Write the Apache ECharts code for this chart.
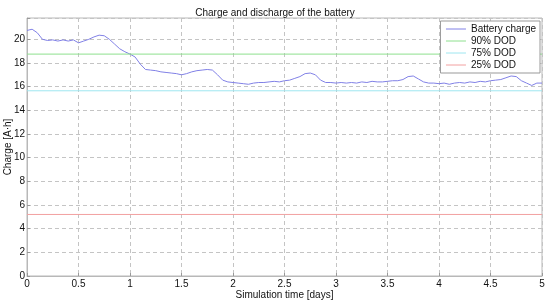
<!DOCTYPE html>
<html>
<head>
<meta charset="utf-8">
<script src="https://cdn.jsdelivr.net/npm/echarts@6/dist/echarts.min.js"></script>
<style>
html, body { margin: 0; padding: 0; background: #fff; }
#main { width: 550px; height: 304px; }
</style>
</head>
<body>
<div id="main"></div>
<script>
var timeDays = [];
for (var i = 0; i <= 100; i++) timeDays.push(+(i * 0.05).toFixed(2));
var chargeAh = [
  20.75, 20.85, 20.55, 20.0, 19.9, 19.95, 19.85, 19.95, 19.85, 19.95,
  19.7, 19.85, 20.0, 20.2, 20.35, 20.3, 20.0, 19.6, 19.2, 18.95,
  18.75, 18.5, 17.9, 17.45, 17.4, 17.35, 17.25, 17.2, 17.15, 17.1,
  17.0, 17.1, 17.25, 17.35, 17.4, 17.45, 17.4, 17.0, 16.55, 16.4,
  16.35, 16.3, 16.25, 16.2, 16.3, 16.35, 16.35, 16.4, 16.45, 16.4,
  16.5, 16.55, 16.7, 16.85, 17.1, 17.15, 17.0, 16.55, 16.35, 16.35,
  16.3, 16.35, 16.3, 16.35, 16.3, 16.4, 16.35, 16.45, 16.4, 16.4,
  16.45, 16.5, 16.5, 16.6, 16.85, 16.9, 16.65, 16.4, 16.3, 16.3,
  16.25, 16.3, 16.2, 16.3, 16.35, 16.3, 16.4, 16.35, 16.45, 16.4,
  16.5, 16.55, 16.6, 16.75, 16.9, 16.85, 16.5, 16.3, 16.1, 16.3,
  16.3
];
var dodNames = ['90% DOD', '75% DOD', '25% DOD'];
var dodLevels = [18.75, 15.65, 5.2];
var dodColors = ['#8ee08e', '#9ee6f0', '#f2a0a0'];
var chargeColor = '#8080e6';

var myChart = echarts.init(document.getElementById('main'));
var font = 'Liberation Sans, Arial, sans-serif';

var series = [{
  name: 'Battery charge',
  type: 'line',
  symbol: 'none',
  lineStyle: { width: 1, color: chargeColor },
  itemStyle: { color: chargeColor },
  data: timeDays.map(function (t, i) { return [t, chargeAh[i]]; })
}];
var legendData = [{ name: 'Battery charge', lineStyle: { color: chargeColor, width: 1 }, itemStyle: { opacity: 0 } }];
dodNames.forEach(function (n, k) {
  series.push({
    name: n,
    type: 'line',
    symbol: 'none',
    lineStyle: { width: 1, color: dodColors[k] },
    itemStyle: { color: dodColors[k] },
    data: [[0, dodLevels[k]], [5, dodLevels[k]]]
  });
  legendData.push({ name: n, lineStyle: { color: dodColors[k], width: 1 }, itemStyle: { opacity: 0 } });
});

var option = {
  animation: false,
  textStyle: { fontFamily: font },
  title: {
    text: 'Charge and discharge of the battery',
    left: 'center',
    top: 3,
    textStyle: { fontSize: 10, fontWeight: 'normal', color: '#111', fontFamily: font }
  },
  legend: {
    orient: 'vertical',
    right: 10,
    top: 21,
    itemWidth: 20,
    itemHeight: 9,
    itemGap: 2,
    padding: [3, 4, 3, 5],
    backgroundColor: '#fff',
    borderColor: '#999',
    borderWidth: 1,
    borderRadius: 0,
    textStyle: { fontSize: 10, color: '#111', fontFamily: font },
    data: legendData
  },
  grid: {
    left: 27, right: 8, top: 18, bottom: 28,
    outerBoundsMode: 'none',
    containLabel: false,
    show: true, borderColor: '#b8b8b8', borderWidth: 1
  },
  xAxis: {
    type: 'value',
    min: 0, max: 5, interval: 0.5,
    name: 'Simulation time [days]',
    nameLocation: 'middle',
    nameGap: 14,
    nameMoveOverlap: false,
    nameTextStyle: { fontSize: 10, color: '#111', fontFamily: font },
    axisLine: { lineStyle: { color: '#b8b8b8' } },
    axisTick: { inside: true, length: 3, lineStyle: { color: '#999' } },
    axisLabel: { fontSize: 10, color: '#111', margin: 3, fontFamily: font },
    splitLine: { lineStyle: { type: [4, 3], color: '#c4c4c4' } }
  },
  yAxis: {
    type: 'value',
    min: 0, max: 21.8, interval: 2,
    name: 'Charge [A·h]',
    nameLocation: 'middle',
    nameGap: 14,
    nameMoveOverlap: false,
    nameTextStyle: { fontSize: 10, color: '#111', fontFamily: font },
    axisLine: { show: true, lineStyle: { color: '#b8b8b8' } },
    axisTick: { show: true, inside: true, length: 3, lineStyle: { color: '#999' } },
    axisLabel: {
      fontSize: 10, color: '#111', margin: 2, fontFamily: font,
      formatter: function (v) { return v % 2 === 0 ? String(v) : ''; }
    },
    splitLine: { lineStyle: { type: [4, 3], color: '#c4c4c4' } }
  },
  series: series
};
myChart.setOption(option, true);
</script>
</body>
</html>
